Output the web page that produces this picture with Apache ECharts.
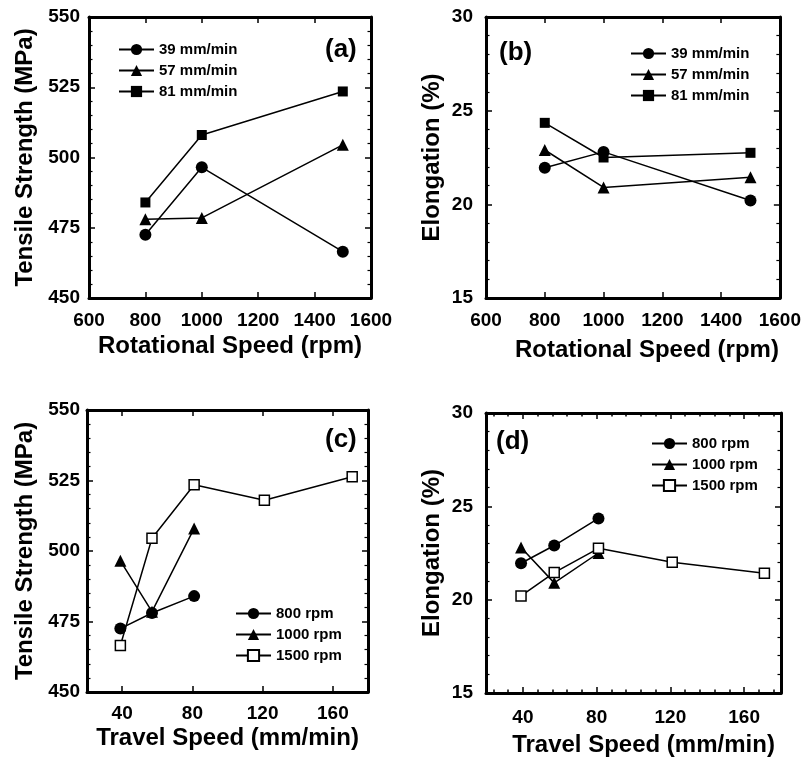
<!DOCTYPE html>
<html>
<head>
<meta charset="utf-8">
<script src="https://cdn.jsdelivr.net/npm/echarts@6/dist/echarts.min.js"></script>
<style>
  html, body { margin: 0; padding: 0; background: #fff; }
  #chart { width: 804px; height: 758px; }
</style>
</head>
<body>
<div id="chart"></div>
<script>
// 横轴取值
var rotSpeed = [800, 1000, 1500];
var travel3 = [39, 57, 81];
var travel5 = [39, 57, 81, 121, 171];

// (a) 抗拉强度 vs 转速
var tsRot39 = [472.5, 496.5, 466.5];
var tsRot57 = [478, 478.5, 504.5];
var tsRot81 = [484, 508, 523.5];
// (b) 延伸率 vs 转速
var elRot39 = [21.95, 22.8, 20.2];
var elRot57 = [22.9, 20.9, 21.45];
var elRot81 = [24.35, 22.5, 22.75];
// (c) 抗拉强度 vs 焊接速度
var tsTr800 = [472.5, 478, 484];
var tsTr1000 = [496.5, 478.5, 508];
var tsTr1500 = [466.5, 504.5, 523.5, 518, 526.3];
// (d) 延伸率 vs 焊接速度
var elTr800 = [21.95, 22.9, 24.35];
var elTr1000 = [22.8, 20.9, 22.5];
var elTr1500 = [20.2, 21.45, 22.75, 22.0, 21.41];

// 刻度
var travelTicks = [40, 80, 120, 160];
var travelMinor = [24, 32, 48, 56, 64, 72, 88, 96, 104, 112, 128, 136, 144, 152, 168, 176];
var rotNames = ['39 mm/min', '57 mm/min', '81 mm/min'];
var rpmNames = ['800 rpm', '1000 rpm', '1500 rpm'];

var FONT = 'Liberation Sans';

function pairs(xs, ys) {
	return xs.map(function(x, i) { return [x, ys[i]]; });
}

var grids = [
	{ left: 89, top: 17, width: 282, height: 281 },
	{ left: 486, top: 17, width: 295, height: 281 },
	{ left: 87, top: 410, width: 281, height: 282 },
	{ left: 486, top: 413, width: 295, height: 280 }
];

var xAxes = [], yAxes = [];

function tickStyle(len) {
	return { show: true, inside: true, length: len, lineStyle: { color: '#000', width: 1.5 } };
}

function labelStyle(margin) {
	return {
		margin: margin, fontSize: 19, fontWeight: 'bold', color: '#000', fontFamily: FONT,
		// 不要千位分隔符
		formatter: function(v) { return String(v); }
	};
}

// 添加一组x轴（底部+顶部镜像）
function addX(g, opt) {
	var base = {
		gridIndex: g, type: 'value', min: opt.min, max: opt.max,
		splitLine: { show: false },
		axisLine: { onZero: false, lineStyle: { color: '#000', width: 3 } },
		axisTick: tickStyle(6)
	};
	if (opt.interval) base.interval = opt.interval;
	if (opt.ticks) base.axisTick.customValues = opt.ticks;
	var bottom = Object.assign({}, base, {
		position: 'bottom',
		axisLabel: labelStyle(opt.margin),
		name: opt.name, nameLocation: 'middle', nameGap: opt.nameGap,
		nameTextStyle: { fontSize: 24, fontWeight: 'bold', color: '#000', fontFamily: FONT, padding: [0, 0, 0, opt.pad || 0] }
	});
	if (opt.ticks) bottom.axisLabel.customValues = opt.ticks;
	var top = Object.assign({}, base, { position: 'top', axisLabel: { show: false } });
	xAxes.push(bottom);
	var idx = xAxes.length - 1;
	xAxes.push(top);
	if (opt.minor) {
		['bottom', 'top'].forEach(function(p) {
			xAxes.push({
				gridIndex: g, type: 'value', min: opt.min, max: opt.max, position: p,
				splitLine: { show: false }, axisLabel: { show: false },
				axisLine: { show: false, onZero: false },
				axisTick: Object.assign(tickStyle(3.5), { customValues: opt.minor })
			});
		});
	}
	return idx;
}

// 添加一组y轴（左侧+右侧镜像）
function addY(g, opt) {
	var base = {
		gridIndex: g, type: 'value', min: opt.min, max: opt.max, interval: opt.interval,
		splitLine: { show: false },
		axisLine: { onZero: false, lineStyle: { color: '#000', width: 3 } },
		axisTick: tickStyle(6),
		minorTick: { show: true, splitNumber: 5, length: 3.5, lineStyle: { color: '#000', width: 1.2 } }
	};
	var left = Object.assign({}, base, {
		position: 'left',
		axisLabel: labelStyle(opt.margin),
		name: opt.name, nameLocation: 'middle', nameGap: opt.nameGap,
		nameTextStyle: { fontSize: 24, fontWeight: 'bold', color: '#000', fontFamily: FONT }
	});
	var right = Object.assign({}, base, { position: 'right', axisLabel: { show: false } });
	yAxes.push(left);
	var idx = yAxes.length - 1;
	yAxes.push(right);
	return idx;
}

var xa = addX(0, { min: 600, max: 1600, interval: 200, margin: 13, name: 'Rotational Speed (rpm)', nameGap: 36 });
var ya = addY(0, { min: 450, max: 550, interval: 25, margin: 9, name: 'Tensile Strength (MPa)', nameGap: 52 });
var xb = addX(1, { min: 600, max: 1600, interval: 200, margin: 13, name: 'Rotational Speed (rpm)', nameGap: 40, pad: 28 });
var yb = addY(1, { min: 15, max: 30, interval: 5, margin: 13, name: 'Elongation (%)', nameGap: 42 });
var xc = addX(2, { min: 20, max: 180, ticks: travelTicks, margin: 12, name: 'Travel Speed (mm/min)', nameGap: 34 });
var yc = addY(2, { min: 450, max: 550, interval: 25, margin: 7, name: 'Tensile Strength (MPa)', nameGap: 50 });
var xd = addX(3, { min: 20, max: 180, ticks: travelTicks, minor: travelMinor, margin: 15, name: 'Travel Speed (mm/min)', nameGap: 40, pad: 20 });
var yd = addY(3, { min: 15, max: 30, interval: 5, margin: 13, name: 'Elongation (%)', nameGap: 42 });

function lineSeries(name, xi, yi, data, symbol, size, open) {
	return {
		name: name, type: 'line', xAxisIndex: xi, yAxisIndex: yi, data: data,
		symbol: symbol, symbolSize: size, showAllSymbol: true,
		lineStyle: { color: '#000', width: 1.5 },
		itemStyle: open ? { color: '#fff', borderColor: '#000', borderWidth: 1.5 } : { color: '#000' }
	};
}

var series = [
	lineSeries(rotNames[0], xa, ya, pairs(rotSpeed, tsRot39), 'circle', 12),
	lineSeries(rotNames[1], xa, ya, pairs(rotSpeed, tsRot57), 'triangle', 12),
	lineSeries(rotNames[2], xa, ya, pairs(rotSpeed, tsRot81), 'rect', 10),
	lineSeries(rotNames[0], xb, yb, pairs(rotSpeed, elRot39), 'circle', 12),
	lineSeries(rotNames[1], xb, yb, pairs(rotSpeed, elRot57), 'triangle', 12),
	lineSeries(rotNames[2], xb, yb, pairs(rotSpeed, elRot81), 'rect', 10),
	lineSeries(rpmNames[0], xc, yc, pairs(travel3, tsTr800), 'circle', 12),
	lineSeries(rpmNames[1], xc, yc, pairs(travel3, tsTr1000), 'triangle', 12),
	lineSeries(rpmNames[2], xc, yc, pairs(travel5, tsTr1500), 'rect', 10, true),
	lineSeries(rpmNames[0], xd, yd, pairs(travel3, elTr800), 'circle', 12),
	lineSeries(rpmNames[1], xd, yd, pairs(travel3, elTr1000), 'triangle', 12),
	lineSeries(rpmNames[2], xd, yd, pairs(travel5, elTr1500), 'rect', 10, true)
];

function legend(names, left, top) {
	return {
		data: names, left: left, top: top, orient: 'vertical', padding: 0,
		itemWidth: 35, itemHeight: 14, itemGap: 6, selectedMode: false,
		textStyle: { fontSize: 15, fontWeight: 'bold', color: '#000', fontFamily: FONT }
	};
}

function panelTitle(text, left, top) {
	return { text: text, left: left, top: top, padding: 0,
		textStyle: { fontSize: 26, fontWeight: 'bold', color: '#000', fontFamily: FONT } };
}

var chart = echarts.init(document.getElementById('chart'));
chart.setOption({
	animation: false,
	backgroundColor: '#fff',
	title: [
		panelTitle('(a)', 325, 37),
		panelTitle('(b)', 499, 40),
		panelTitle('(c)', 325, 427),
		panelTitle('(d)', 496, 429)
	],
	legend: [
		legend(rotNames, 118, 42),
		legend(rotNames, 630, 46),
		legend(rpmNames, 235, 606),
		legend(rpmNames, 651, 436)
	],
	grid: grids,
	xAxis: xAxes,
	yAxis: yAxes,
	series: series
});
</script>
</body>
</html>
